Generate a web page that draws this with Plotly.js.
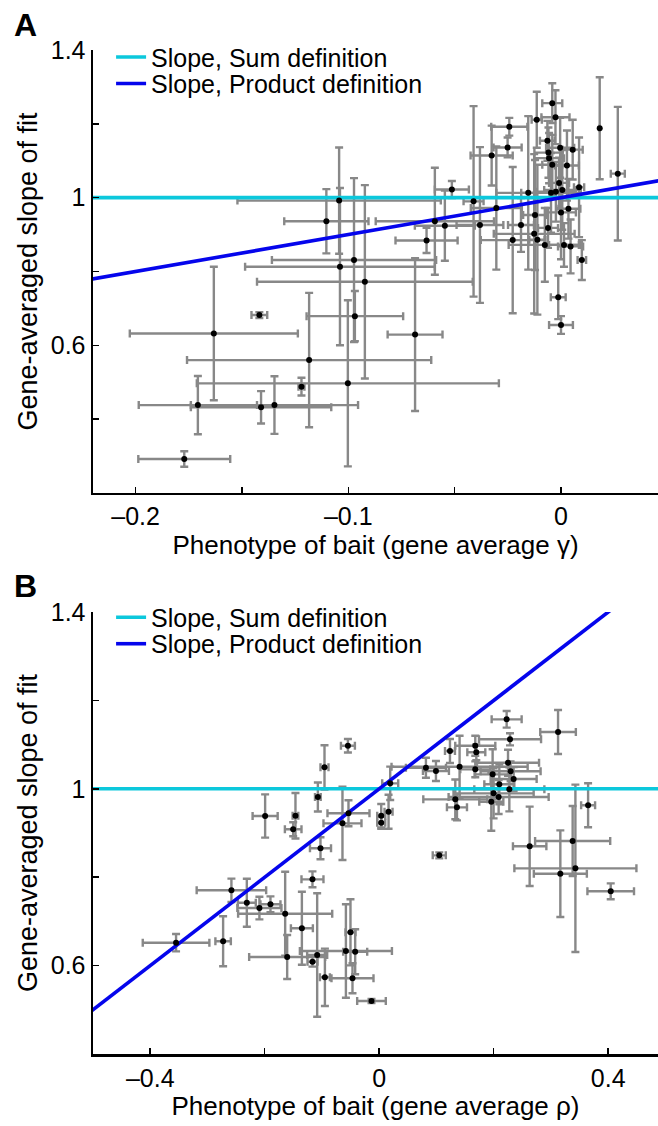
<!DOCTYPE html>
<html>
<head>
<meta charset="utf-8">
<script src="https://cdn.plot.ly/plotly-3.0.1.min.js"></script>
<style>html,body{margin:0;padding:0;background:#fff;}</style>
</head>
<body>
<div id="chart" style="width:658px;height:1126px;"></div>
<script>
// ---------- Panel A data (phenotype gamma) ----------
const aX = [-0.1103,-0.1043,-0.0973,-0.0969,-0.0922,-0.1039,-0.122,-0.0686,-0.1184,-0.1002,-0.0632,-0.0593,-0.0546,-0.0411,-0.0513,
  -0.1418,-0.1632,-0.1707,-0.141,-0.1347,-0.1771,
  -0.0304,-0.0326,-0.0243,-0.0251,-0.0154,-0.0381,-0.0188,-0.0227,-0.0122,-0.0126,-0.0111,-0.0076,-0.0061,0.0,0.0035,0.0014,0.0045,0.0098,
  -0.0047,-0.0024,-0.0009,0.0006,0.0085,0.0055,0.0028,-0.0041,-0.0056,-0.0059,-0.0064,-0.0004,-0.0114,-0.0026,-0.0041,0.0182,0.0267,-0.0013,0.0];
const aY = [0.936,0.992,0.831,0.679,0.772,0.813,0.488,0.629,0.560,0.497,0.884,0.936,0.924,0.990,1.022,
  0.682,0.632,0.438,0.432,0.438,0.292,
  0.972,1.114,1.192,1.136,1.013,0.926,0.926,0.885,0.953,0.902,0.886,0.872,0.918,0.960,0.970,0.872,0.868,0.831,
  1.013,1.016,1.040,1.021,1.028,1.130,1.087,1.089,1.107,1.122,1.154,1.135,1.211,1.218,1.256,1.188,1.065,0.730,0.655];
const aXerr = [0.0198,0.0478,0.0386,0.0227,0.0507,0.0446,0.0014,0.0129,0.0574,0.071,0.0146,0.0278,0.0141,0.0047,0.008,
  0.0037,0.0395,0.0278,0.033,0.0393,0.0216,
  0.012,0.0099,0.0085,0.0066,0.015,0.011,0.0061,0.015,0.0056,0.019,0.0038,0.017,0.0047,0.007,0.0056,0.007,0.0059,0.002,
  0.014,0.0094,0.0047,0.0085,0.0024,0.0047,0.0056,0.0047,0.007,0.0066,0.0035,0.0066,0.0024,0.0066,0.0047,0.0,0.0033,0.0035,0.0056];
const aYerr = [0.087,0.144,0.222,0.068,0.262,0.213,0.024,0.207,0.182,0.225,0.034,0.145,0.095,0.258,0.023,
  0.008,0.181,0.079,0.044,0.078,0.021,
  0.167,0.081,0.024,0.027,0.208,0.211,0.073,0.198,0.149,0.216,0.203,0.100,0.054,0.127,0.081,0.059,0.073,0.054,
  0.108,0.081,0.068,0.108,0.135,0.081,0.095,0.081,0.068,0.068,0.054,0.081,0.076,0.073,0.054,0.138,0.181,0.059,0.024];
// fit lines, panel A
const aLineX = [-0.23, 0.05];
const aSumY = [1.0, 1.0];
const aProdY = [0.77, 1.05];

// ---------- Panel B data (phenotype rho) ----------
const bX = [-0.1993,-0.2582,-0.2313,-0.2093,-0.19,-0.1643,-0.3549,-0.2727,-0.1608,
  -0.0547,-0.0956,-0.1072,-0.1463,-0.1503,-0.0642,-0.0537,-0.1026,-0.1166,-0.1351,-0.1084,-0.1166,-0.0949,-0.0582,-0.0502,-0.042,-0.0467,-0.0135,
  0.0035,0.0035,0.0163,0.0192,0.1049,0.0816,0.0991,0.1236,0.1404,0.1678,0.1696,0.1678,0.1329,0.1358,
  0.2226,0.3124,0.2285,0.225,0.2295,0.2348,0.1981,0.2098,0.1998,0.2086,0.1958,0.2273,0.3649,0.2628,0.3379,0.3427,0.3164,0.4044];
const bY = [0.9385,0.7704,0.7423,0.7303,0.7387,0.7174,0.6518,0.655,0.6195,
  1.0975,1.0486,0.9814,0.9391,0.9084,0.9219,0.9446,0.8654,0.7952,0.6844,0.624,0.6088,0.5735,0.633,0.6753,0.6314,0.5713,0.5199,
  0.9391,0.9233,0.9482,1.0124,0.8495,1.0477,1.0403,1.0855,1.05,1.0975,1.0826,1.0441,0.9762,0.9581,
  1.1572,1.1285,1.112,1.0591,1.0396,1.0222,1.0328,1.0102,0.9898,0.9814,0.9708,0.9989,0.9627,0.8699,0.8819,0.8201,0.8079,0.7681];
const bXerr = [0.0219,0.0607,0.0157,0.0385,0.0175,0.0822,0.0582,0.0135,0.0664,
  0.0122,0.007,0.005,0.005,0.0145,0.0332,0.0367,0.0184,0.0192,0.0192,0.0175,0.0087,0.0087,0.0804,0.0087,0.021,0.0367,0.025,
  0.007,0.007,0.007,0.014,0.0114,0.035,0.0227,0.0087,0.1189,0.035,0.0157,0.0262,0.0559,0.0175,
  0.0262,0.0311,0.0542,0.0542,0.0524,0.0402,0.0315,0.0262,0.07,0.0874,0.021,0.0612,0.0122,0.0292,0.0656,0.1066,0.0463,0.0407];
const bYerr = [0.049,0.0265,0.0543,0.0256,0.018,0.095,0.0197,0.0566,0.0498,
  0.0152,0.05,0.0328,0.0516,0.0158,0.083,0.0294,0.0249,0.018,0.0826,0.1396,0.011,0.065,0.1057,0.0747,0.0509,0.034,0.0045,
  0.0265,0.0136,0.0385,0.0378,0.0068,0.0226,0.0226,0.0271,0.0701,0.0226,0.018,0.018,0.045,0.0294,
  0.0188,0.0498,0.0136,0.0294,0.0226,0.027,0.0566,0.045,0.0566,0.0385,0.0656,0.05,0.0498,0.0898,0.0792,0.1894,0.098,0.018];
// fit lines, panel B
const bLineX = [-0.55, 0.55];
const bSumY = [1.0, 1.0];
const bProdY = [0.45, 1.55];

// ---------- labels ----------
const legendNames = ['Slope, Sum definition', 'Slope, Product definition'];
const aXTickVals = [-0.2, -0.15, -0.1, -0.05, 0];
const aXTickText = ['\u20130.2', '', '\u20130.1', '', '0'];
const aYTickVals = [0.4, 0.6, 0.8, 1.0, 1.2, 1.4];
const aYTickText = ['', '0.6', '', '1', '', '1.4'];
const bXTickVals = [-0.4, -0.2, 0, 0.2, 0.4];
const bXTickText = ['\u20130.4', '', '0', '', '0.4'];
const bYTickVals = [0.6, 0.8, 1.0, 1.2, 1.4];
const bYTickText = ['0.6', '', '1', '', '1.4'];
const aXTitle = 'Phenotype of bait (gene average \u03b3)';
const bXTitle = 'Phenotype of bait (gene average \u03c1)';
const yTitle = 'Gene-averaged slope of fit';

const FONT = '"Liberation Sans", Arial, Helvetica, sans-serif';
const GRAY = '#888888';
const CYAN = '#0CC8DC';
const BLUE = '#0505EC';

function errTrace(x, y, ex, ey, xa, ya) {
  return {
    x: x, y: y, xaxis: xa, yaxis: ya, type: 'scatter', mode: 'markers',
    marker: {size: 6, color: 'rgba(0,0,0,0)'},
    error_x: {type: 'data', array: ex, visible: true, color: GRAY, thickness: 2.4, width: 4},
    error_y: {type: 'data', array: ey, visible: true, color: GRAY, thickness: 2.4, width: 4},
    showlegend: false, hoverinfo: 'skip'
  };
}
function lineTrace(x, y, color, name, xa, ya, leg) {
  return {x: x, y: y, xaxis: xa, yaxis: ya, type: 'scatter', mode: 'lines',
    line: {color: color, width: 3.6}, name: name, legend: leg, showlegend: true};
}
function dotTrace(x, y, xa, ya) {
  return {x: x, y: y, xaxis: xa, yaxis: ya, type: 'scatter', mode: 'markers',
    marker: {size: 6, color: '#000'}, showlegend: false};
}

const traces = [
  errTrace(aX, aY, aXerr, aYerr, 'x', 'y'),
  lineTrace(aLineX, aSumY, CYAN, legendNames[0], 'x', 'y', 'legend'),
  lineTrace(aLineX, aProdY, BLUE, legendNames[1], 'x', 'y', 'legend2'),
  dotTrace(aX, aY, 'x', 'y'),
  errTrace(bX, bY, bXerr, bYerr, 'x2', 'y2'),
  lineTrace(bLineX, bSumY, CYAN, legendNames[0], 'x2', 'y2', 'legend3'),
  lineTrace(bLineX, bProdY, BLUE, legendNames[1], 'x2', 'y2', 'legend4'),
  dotTrace(bX, bY, 'x2', 'y2')
];

const axisCommon = {
  showline: true, linecolor: '#000', linewidth: 2.5, ticks: 'inside', ticklen: 6,
  tickwidth: 1.5, tickcolor: '#000', showgrid: false, zeroline: false, mirror: false,
  tickfont: {family: FONT, size: 25, color: '#000'}, tickmode: 'array', fixedrange: true
};
const xTitleFont = {family: FONT, size: 26, color: '#000'};
const yTitleFont = {family: FONT, size: 27, color: '#000'};
function legendAt(x, y) {
  return {x: x, y: y, xanchor: 'left', yanchor: 'middle', bgcolor: 'rgba(0,0,0,0)',
    borderwidth: 0, font: {family: FONT, size: 25, color: '#000'}};
}

const layout = {
  width: 658, height: 1126,
  margin: {l: 93, r: 0, t: 50, b: 72},
  paper_bgcolor: '#fff', plot_bgcolor: '#fff',
  font: {family: FONT, color: '#000'},
  xaxis: Object.assign({}, axisCommon, {domain: [0, 1], anchor: 'y', range: [-0.22, 0.0456],
    tickvals: aXTickVals, ticktext: aXTickText,
    title: {text: aXTitle, font: xTitleFont, standoff: 6}}),
  yaxis: Object.assign({}, axisCommon, {domain: [0.5588, 1], anchor: 'x', range: [0.2, 1.4],
    tickvals: aYTickVals, ticktext: aYTickText,
    title: {text: yTitle, font: yTitleFont, standoff: 6}}),
  xaxis2: Object.assign({}, axisCommon, {domain: [0, 1], anchor: 'y2', range: [-0.5, 0.487],
    tickvals: bXTickVals, ticktext: bXTickText,
    title: {text: bXTitle, font: xTitleFont, standoff: 6}}),
  yaxis2: Object.assign({}, axisCommon, {domain: [0, 0.4402], anchor: 'x2', range: [0.4, 1.4],
    tickvals: bYTickVals, ticktext: bYTickText,
    title: {text: yTitle, font: yTitleFont, standoff: 6}}),
  legend: legendAt(0.032, 0.9928),
  legend2: legendAt(0.032, 0.9664),
  legend3: legendAt(0.032, 0.4348),
  legend4: legendAt(0.032, 0.4084),
  annotations: [
    {text: '<b>A</b>', xref: 'paper', yref: 'paper', x: -0.1186, y: 1.025, xanchor: 'center', yanchor: 'middle',
      showarrow: false, font: {family: FONT, size: 32, color: '#000'}},
    {text: '<b>B</b>', xref: 'paper', yref: 'paper', x: -0.1186, y: 0.466, xanchor: 'center', yanchor: 'middle',
      showarrow: false, font: {family: FONT, size: 32, color: '#000'}}
  ],
  showlegend: true
};

Plotly.newPlot('chart', traces, layout, {displayModeBar: false, staticPlot: true});
</script>
</body>
</html>
